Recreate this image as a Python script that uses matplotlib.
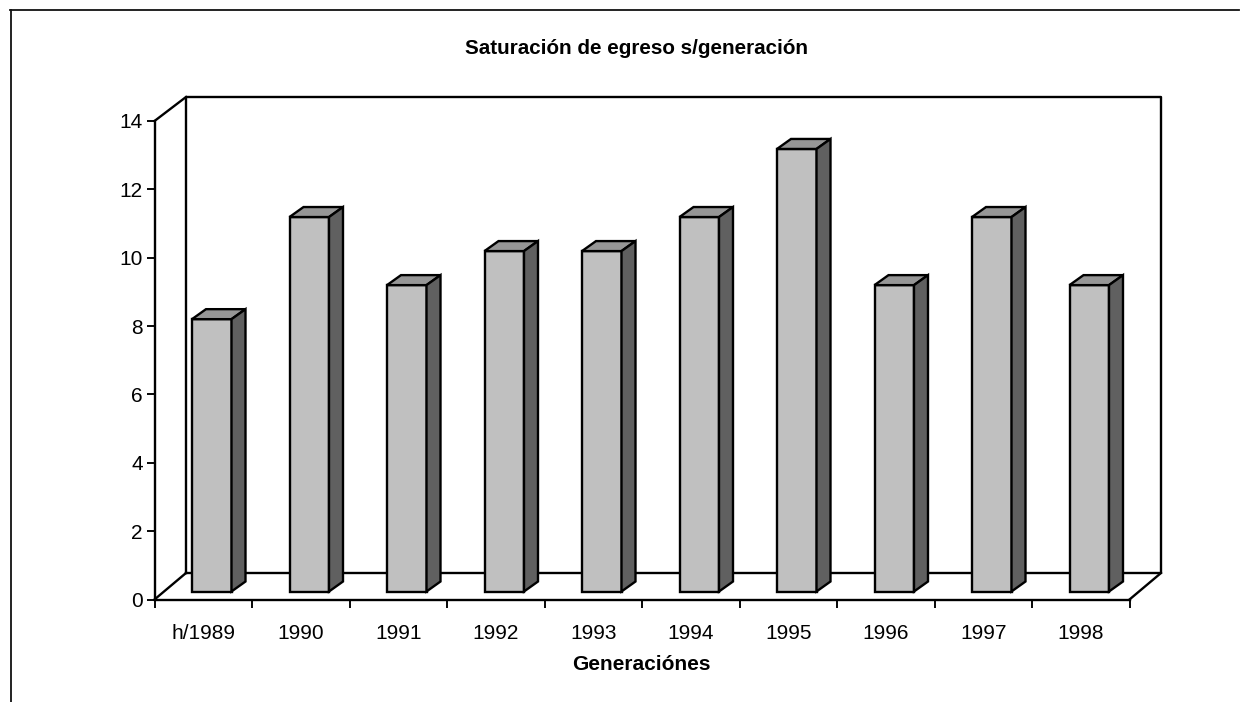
import matplotlib
matplotlib.use("Agg")
import matplotlib.pyplot as plt
from matplotlib.lines import Line2D
from matplotlib.patches import Polygon

plt.rcParams['font.family'] = ['Liberation Sans', 'DejaVu Sans']

# Chart data
categories = ['h/1989', '1990', '1991', '1992', '1993', '1994', '1995', '1996', '1997', '1998']
values = [8, 11, 9, 10, 10, 11, 13, 9, 11, 9]
y_ticks = [0, 2, 4, 6, 8, 10, 12, 14]

W, H = 1242, 702
LW = 1.7

# Pixel box of the front plane
left, right, top, bottom = 154.5, 1129.5, 121, 599.5

fig = plt.figure(figsize=(W / 100, H / 100), dpi=100)
ax = fig.add_axes([left / W, 1 - bottom / H, (right - left) / W, (bottom - top) / H])
ax.set_xlim(0, len(categories))
ax.set_ylim(0, 14)
ax.patch.set_visible(False)

px_x = len(categories) / (right - left)
px_y = 14 / (bottom - top)

# Depth of the box and of the bars, in data units
box_dx = 31.5 * px_x
floor_dy, roof_dy = 26.5 * px_y, 24 * px_y
bar_dx, bar_dy = 14 * px_x, 10 * px_y
base = 8 * px_y
bar_w = 39.5 * px_x
bar_off = 37.5 * px_x

line_style = dict(color='black', lw=LW, clip_on=False, solid_capstyle='projecting')

# Back wall
ax.plot([box_dx, box_dx, 10 + box_dx, 10 + box_dx, box_dx],
        [floor_dy, 14 + roof_dy, 14 + roof_dy, floor_dy, floor_dy], zorder=1, **line_style)
# Depth edges
ax.plot([0, box_dx], [14, 14 + roof_dy], zorder=1, **line_style)
ax.plot([0, box_dx], [0, floor_dy], zorder=1, **line_style)
ax.plot([10, 10 + box_dx], [0, floor_dy], zorder=1, **line_style)

# Bars with top and side faces
for i, v in enumerate(values):
    x0 = i + bar_off
    x1 = x0 + bar_w
    y1 = base + v * 0.996
    ax.bar(x0, y1 - base, width=bar_w, bottom=base, align='edge', color='#C0C0C0',
           edgecolor='black', linewidth=LW, zorder=3, clip_on=False)
    ax.add_patch(Polygon([(x0, y1), (x1, y1), (x1 + bar_dx, y1 + bar_dy), (x0 + bar_dx, y1 + bar_dy)],
                         closed=True, facecolor='#969696', edgecolor='black', lw=LW, zorder=3, clip_on=False))
    ax.add_patch(Polygon([(x1, base), (x1 + bar_dx, base + bar_dy), (x1 + bar_dx, y1 + bar_dy), (x1, y1)],
                         closed=True, facecolor='#606060', edgecolor='black', lw=LW, zorder=3, clip_on=False))

# Axes
for s in ['top', 'right']:
    ax.spines[s].set_visible(False)
for s in ['left', 'bottom']:
    ax.spines[s].set_linewidth(LW)

ax.set_yticks(y_ticks)
ax.tick_params(axis='y', length=5.5, width=LW * 0.8, labelsize=15, pad=3)
ax.set_xticks(range(len(categories) + 1))
ax.set_xticklabels([])
ax.tick_params(axis='x', which='major', length=6, width=LW * 0.8)
ax.set_xticks([i + 0.5 for i in range(len(categories))], minor=True)
ax.set_xticklabels(categories, minor=True)
ax.tick_params(axis='x', which='minor', length=0, labelsize=15, pad=17.5)

# Texts
fig.text(636.5 / W, 1 - 48 / H, 'Saturación de egreso s/generación', fontsize=14.9,
         fontweight='bold', ha='center', va='center')
fig.text(641 / W, 1 - 665 / H, 'Generaciónes', fontsize=15,
         fontweight='bold', ha='center', va='center')

# Outer frame cut off on the right and bottom
fig.add_artist(Line2D([10 / W, 1239 / W], [1 - 10 / H, 1 - 10 / H], color='#111111', lw=1.3))
fig.add_artist(Line2D([10.5 / W, 10.5 / W], [1 - 10 / H, 0], color='#111111', lw=1.3))

fig.savefig("out.png", dpi=100)
